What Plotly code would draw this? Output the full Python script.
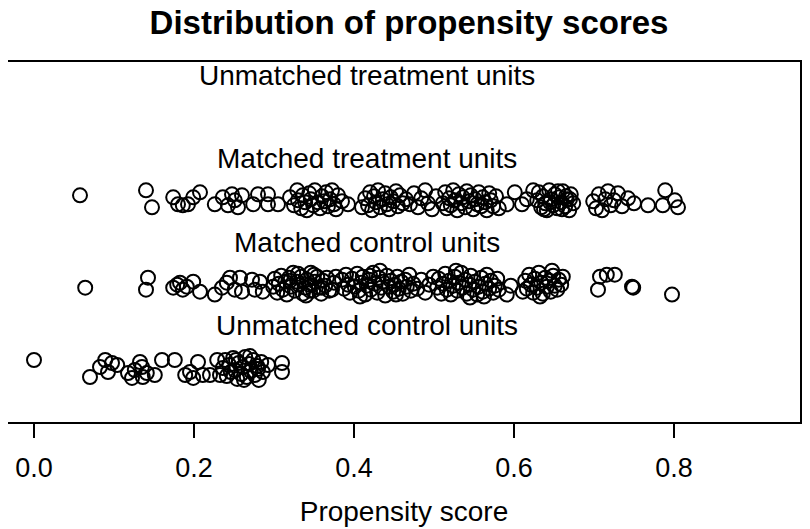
import plotly.graph_objects as go

# Group labels (y positions 1..4 for point rows, labels half a unit above)
group_labels = ["Unmatched treatment units", "Matched treatment units",
                "Matched control units", "Unmatched control units"]
label_y = [4.5, 3.5, 2.5, 1.5]
label_x = 0.416

# Matched treatment units (row y = 3)
mt_score = [0.0575, 0.140, 0.1475, 0.174, 0.180, 0.186, 0.1925, 0.199, 0.2075, 0.226, 0.236, 0.2425,
            0.2475, 0.251, 0.255, 0.260, 0.274, 0.280, 0.2925, 0.2925, 0.305, 0.320, 0.329,
            0.325, 0.330, 0.334, 0.336, 0.339, 0.341, 0.344, 0.346, 0.349, 0.351, 0.355, 0.3575, 0.360, 0.3625,
            0.365, 0.3675, 0.370, 0.3725, 0.375, 0.3775, 0.380, 0.385,
            0.3925, 0.410, 0.420,
            0.414, 0.4175, 0.4225, 0.425, 0.4275, 0.430, 0.4325, 0.436, 0.439, 0.441, 0.444, 0.446, 0.449,
            0.4525, 0.455, 0.4575, 0.461, 0.465,
            0.470, 0.475, 0.480, 0.484, 0.489, 0.4925, 0.4975, 0.5025,
            0.511, 0.514, 0.516, 0.519, 0.521, 0.524, 0.526, 0.529, 0.531, 0.534, 0.536, 0.539, 0.541, 0.544,
            0.546, 0.549, 0.551, 0.554, 0.556, 0.559, 0.561, 0.564, 0.566, 0.569, 0.571, 0.574, 0.5775, 0.581,
            0.591, 0.601, 0.610, 0.624, 0.616,
            0.629, 0.631, 0.634, 0.636, 0.639, 0.641, 0.644, 0.646, 0.649, 0.651, 0.654, 0.656, 0.659, 0.661,
            0.664, 0.666, 0.669, 0.671, 0.674, 0.645, 0.655, 0.665, 0.6375, 0.660, 0.670,
            0.699, 0.7025, 0.706, 0.710, 0.714, 0.7175, 0.721, 0.725, 0.730, 0.735, 0.7425, 0.750,
            0.7675, 0.786, 0.789, 0.801, 0.805]
mt_jitter = [0.06, 0.12, -0.084, 0.036, -0.048, -0.06, -0.048, 0.036, 0.096, -0.048, 0.036, -0.06,
             0.072, 0.0, -0.084, 0.06, -0.048, 0.072, 0.072, -0.048, -0.048, 0.036, 0.12,
             -0.06, 0.0, -0.096, 0.06, -0.024, -0.12, 0.084, 0.012, -0.06, 0.12, -0.024, -0.096, 0.048, -0.012,
             0.096, -0.072, 0.012, 0.12, -0.048, -0.108, 0.06, -0.012,
             -0.048, -0.084, 0.096,
             0.024, -0.06, -0.12, 0.048, -0.024, 0.12, -0.084, 0.012, 0.084, -0.048, -0.108, 0.036, -0.012,
             0.108, -0.072, 0.06, -0.036, 0.012,
             -0.048, 0.084, -0.084, 0.024, 0.12, -0.036, -0.108, 0.048,
             -0.036, 0.096, -0.096, 0.024, -0.06, 0.12, 0.0, -0.12, 0.072, -0.036, 0.036, -0.084, 0.108, -0.012,
             0.06, -0.108, 0.012, -0.048, 0.096, -0.072, 0.036, -0.024, -0.12, 0.084, 0.0, -0.072, 0.048, -0.096,
             -0.048, 0.096, -0.048, 0.12, 0.012,
             0.0, 0.096, -0.084, 0.048, -0.036, -0.12, 0.12, 0.012, -0.06, 0.072, -0.096, 0.036, -0.024, 0.108,
             -0.072, 0.012, -0.12, 0.072, -0.036, -0.024, 0.108, 0.048, -0.108, -0.108, 0.012,
             -0.012, -0.096, 0.072, -0.12, 0.012, 0.108, -0.06, 0.0, 0.084, -0.072, 0.024, -0.036,
             -0.06, -0.06, 0.12, 0.0, -0.084]

# Matched control units (row y = 2)
mc_score = [0.064, 0.140, 0.1425, 0.174, 0.179, 0.1825, 0.186, 0.191, 0.199, 0.2075,
            0.226, 0.235, 0.241, 0.245, 0.251, 0.2575, 0.260, 0.2725, 0.276, 0.2825, 0.286,
            0.299, 0.301, 0.304, 0.306, 0.309, 0.311, 0.314, 0.316, 0.319, 0.321, 0.324, 0.326, 0.329, 0.331,
            0.334, 0.336, 0.339, 0.341, 0.344, 0.346, 0.349, 0.351, 0.354, 0.356, 0.359, 0.361, 0.364, 0.366,
            0.369, 0.3725, 0.375, 0.3775, 0.330, 0.340, 0.350, 0.360, 0.320, 0.345,
            0.385, 0.3875, 0.390, 0.3925, 0.395, 0.3975, 0.401, 0.404, 0.406, 0.409, 0.411, 0.414, 0.416, 0.419,
            0.421, 0.424, 0.426, 0.429, 0.431, 0.434, 0.436, 0.439, 0.441, 0.444, 0.446, 0.449, 0.451, 0.454,
            0.456, 0.459, 0.461, 0.464, 0.466, 0.469, 0.471, 0.474, 0.4075, 0.4325, 0.4525, 0.420,
            0.479, 0.484, 0.489, 0.494, 0.499,
            0.504, 0.506, 0.509, 0.511, 0.514, 0.516, 0.519, 0.521, 0.524, 0.526, 0.529, 0.531, 0.534, 0.536,
            0.539, 0.541, 0.544, 0.546, 0.549, 0.551, 0.554, 0.556, 0.559, 0.561, 0.564, 0.566, 0.569, 0.571,
            0.574, 0.576, 0.579, 0.581, 0.545, 0.5275, 0.5625,
            0.591, 0.596, 0.611,
            0.614, 0.616, 0.619, 0.621, 0.624, 0.626, 0.629, 0.631, 0.634, 0.636, 0.639, 0.641, 0.644, 0.646,
            0.649, 0.651, 0.654, 0.656, 0.659, 0.661, 0.6325, 0.6475,
            0.705, 0.7075, 0.716, 0.726, 0.7475, 0.749, 0.7975]
mc_jitter = [-0.048, -0.072, 0.072, -0.048, -0.012, 0.012, -0.072, -0.036, 0.024, -0.096,
             -0.131, -0.048, 0.012, 0.072, -0.072, 0.072, -0.096, 0.048, -0.072, 0.024, -0.096,
             -0.036, 0.06, -0.108, 0.0, 0.096, -0.072, 0.024, -0.131, 0.072, -0.036, 0.131, -0.084, 0.024, -0.012,
             0.084, -0.12, -0.048, 0.048, -0.012, 0.131, -0.084, 0.024, 0.084, -0.048, -0.12, 0.036, -0.024, 0.072,
             -0.084, -0.072, 0.012, 0.084, 0.12, -0.143, 0.108, -0.048, 0.036, -0.084,
             0.048, -0.06, 0.108, -0.012, -0.108, 0.06, -0.036, 0.12, -0.084, 0.012, 0.084, -0.131, -0.024, 0.048,
             -0.072, 0.131, 0.0, -0.108, 0.072, -0.048, 0.024, -0.143, 0.096, -0.036, 0.036, -0.096, -0.012, 0.084,
             -0.06, 0.024, -0.12, 0.048, -0.036, 0.108, -0.084, 0.0, -0.155, 0.155, -0.131, 0.096,
             -0.06, 0.048, -0.108, -0.012, 0.084,
             -0.048, 0.06, -0.12, 0.0, 0.12, -0.072, 0.036, -0.131, -0.024, 0.084, -0.084, 0.012, 0.131, -0.048,
             0.048, -0.12, -0.012, 0.096, -0.072, 0.024, -0.131, -0.036, 0.072, -0.096, 0.0, 0.108, -0.06, 0.036,
             -0.108, -0.024, 0.06, -0.072, -0.167, 0.155, -0.155,
             -0.131, -0.024, -0.096,
             0.036, -0.06, 0.108, -0.012, -0.108, 0.06, -0.048, 0.131, 0.012, -0.12, 0.072, -0.036, 0.036, -0.096,
             0.096, -0.024, -0.072, 0.048, -0.012, 0.084, -0.155, 0.155,
             -0.072, 0.084, 0.108, 0.108, -0.036, -0.048, -0.131]

# Unmatched control units (row y = 1)
uc_score = [0.0, 0.070, 0.0825, 0.089, 0.0925, 0.0975, 0.104,
            0.1175, 0.1225, 0.126, 0.1325, 0.135, 0.136, 0.141, 0.151,
            0.160, 0.176, 0.189, 0.195, 0.199, 0.205, 0.211, 0.220, 0.229, 0.2325,
            0.236, 0.239, 0.241, 0.244, 0.246, 0.249, 0.251, 0.254, 0.256, 0.259, 0.261, 0.264, 0.266, 0.269,
            0.271, 0.274, 0.276, 0.279, 0.281, 0.284, 0.286, 0.2525, 0.2625, 0.270, 0.280, 0.2925,
            0.310, 0.310]
uc_jitter = [0.084, -0.12, 0.0, 0.084, -0.06, 0.048, 0.024,
             -0.072, -0.131, -0.036, 0.06, 0.0, -0.12, -0.072, -0.096,
             0.084, 0.084, -0.096, -0.06, -0.131, 0.06, -0.096, -0.096, 0.084, -0.096,
             -0.012, 0.084, -0.108, 0.024, -0.06, 0.108, -0.036, -0.143, 0.048, -0.084, 0.0, 0.12, -0.12, 0.036,
             -0.048, 0.084, -0.096, 0.012, -0.155, 0.06, -0.06, 0.084, -0.155, 0.131, -0.024, 0.024,
             0.048, -0.06]

# Unmatched treatment units (row y = 4): none
ut_score = []
ut_jitter = []

tick_vals = [0.0, 0.2, 0.4, 0.6, 0.8]
tick_text = ["0.0", "0.2", "0.4", "0.6", "0.8"]

FONT = "Liberation Sans, Arial, Helvetica, sans-serif"
marker = dict(symbol="circle-open", size=14, color="black", line=dict(width=2, color="black"))

fig = go.Figure()
for row, xs, js in [(4, ut_score, ut_jitter), (3, mt_score, mt_jitter),
                    (2, mc_score, mc_jitter), (1, uc_score, uc_jitter)]:
    fig.add_trace(go.Scatter(x=xs, y=[row + j for j in js], mode="markers",
                             marker=marker, showlegend=False, hoverinfo="x"))

for lab, ly in zip(group_labels, label_y):
    fig.add_annotation(x=label_x, y=ly, text=lab, showarrow=False,
                       font=dict(family=FONT, size=28, color="black"),
                       xanchor="center", yanchor="middle")

# The page body adds an 8px offset, so the figure is sized 802x521.
fig.update_layout(
    width=802, height=521,
    margin=dict(l=0, r=10, t=54, b=107),
    paper_bgcolor="white", plot_bgcolor="white",
    title=dict(text="Distribution of propensity scores", x=0.5, xanchor="center",
               y=0.973, yanchor="middle",
               font=dict(family=FONT, size=33, color="black", weight="bold")),
    xaxis=dict(range=[-0.0325, 0.9575], tickvals=tick_vals, ticktext=tick_text,
               ticks="outside", ticklen=14, tickwidth=1.5, tickcolor="black",
               showline=True, linecolor="black", linewidth=1.8, mirror=True,
               showgrid=False, zeroline=False, automargin=False,
               tickfont=dict(family=FONT, size=27, color="black"),
               ticklabelstandoff=7,
               title=dict(text="Propensity score", standoff=19,
                          font=dict(family=FONT, size=28, color="black"))),
    yaxis=dict(range=[0.34, 4.66], showticklabels=False, ticks="",
               showline=True, linecolor="black", linewidth=1.8, mirror=True,
               showgrid=False, zeroline=False, automargin=False),
)

fig.write_html("out.html")
